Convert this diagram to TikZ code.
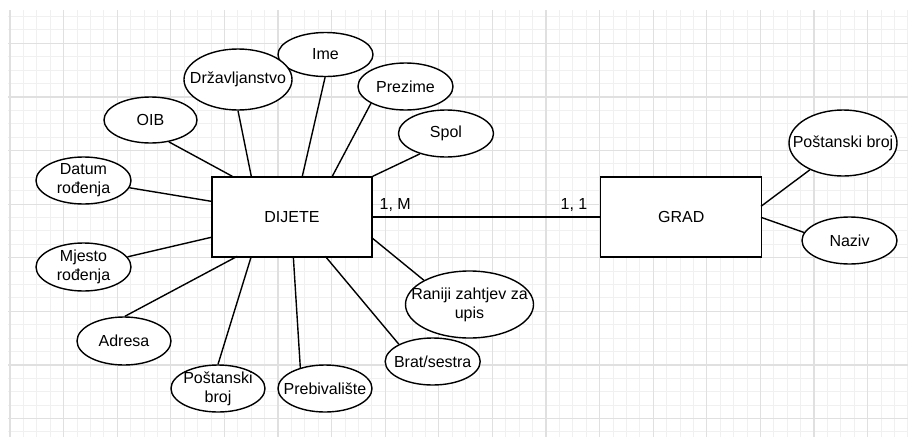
\documentclass[tikz,border=0pt]{standalone}
\usepackage{fontspec}
\setmainfont{Liberation Sans}
\usetikzlibrary{shapes.geometric,calc}
\newcommand{\fsz}{\fontsize{16}{19}\selectfont}
\definecolor{gridmaj}{HTML}{E0E0E0}
\definecolor{gridmin}{HTML}{F0F0F0}
\begin{document}
\begin{tikzpicture}[x=1pt,y=-1pt,
  attr/.style={draw, ellipse, line width=1.4pt, fill=white, inner sep=0pt, minimum width=95pt, minimum height=47pt},
  ent/.style={draw, rectangle, line width=1.4pt, fill=white, inner sep=0pt, minimum width=160pt, minimum height=80pt, font=\fsz},
  lbl/.style={font=\fsz, align=center, inner sep=0pt, text=black},
  conn/.style={line width=1.4pt},
  ]
\useasboundingbox (0,0) rectangle (908,437);
\fill[white] (0,0) rectangle (908,437);
\begin{scope}
\clip (8,10) rectangle (908,437);
\foreach \i in {0,...,67} \draw[gridmin, line width=1pt] ({10+13.4*\i},10) -- ({10+13.4*\i},437);
\foreach \i in {-2,...,29} \draw[gridmin, line width=1pt] (8,{43.3+13.4*\i}) -- (908,{43.3+13.4*\i});
\foreach \i in {0,...,16} \draw[gridmaj, line width=1.2pt] ({10+53.6*\i},10) -- ({10+53.6*\i},437);
\foreach \i in {0,...,7} \draw[gridmaj, line width=1.2pt] (8,{43.3+53.6*\i}) -- (908,{43.3+53.6*\i});
\end{scope}

% entities
\node[ent] (dijete) at (292,217) {DIJETE};
\node[ent, minimum width=161pt] (grad) at (681.2,217) {GRAD};

% attributes of DIJETE
\node[attr, minimum height=44pt, label={[lbl]center:Ime}] (ime) at (325.5,54.5) {};
\node[attr, minimum width=108pt, minimum height=61pt, label={[lbl]center:Državljanstvo}] (drz) at (238,79.5) {};
\node[attr, minimum width=93pt, minimum height=46pt, label={[lbl]center:OIB}] (oib) at (150.5,120) {};
\node[attr, label={[lbl]center:Prezime}] (prez) at (405.5,86.5) {};
\node[attr, label={[lbl]center:Spol}] (spol) at (446,133.5) {};
\node[attr, label={[lbl]center:Datum\\rođenja}] (datum) at (83.5,180.5) {};
\node[attr, minimum height=48pt, label={[lbl]center:Mjesto\\rođenja}] (mjesto) at (83.5,267) {};
\node[attr, minimum width=94pt, minimum height=48pt, label={[lbl]center:Adresa}] (adr) at (124,341) {};
\node[attr, minimum width=94pt, label={[lbl]center:Poštanski\\broj}] (postl) at (218,388.5) {};
\node[attr, minimum width=94pt, label={[lbl]center:Prebivalište}] (preb) at (325,388.5) {};
\node[attr, label={[lbl]center:Brat/sestra}] (brat) at (432.7,361.5) {};
\node[attr, minimum width=128pt, minimum height=67pt, label={[lbl]center:Raniji zahtjev za\\upis}] (ranij) at (469.5,304.5) {};

% attributes of GRAD
\node[attr, minimum width=108pt, minimum height=66pt, label={[lbl]center:Poštanski broj}] (postr) at (843,143) {};
\node[attr, label={[lbl]center:Naziv}] (naziv) at (849.5,240.5) {};

% connectors
\draw[conn] (ime.-91) -- ($(dijete.north west)+(91,0)$);
\draw[conn] (drz.-90) -- ($(dijete.north west)+(40,0)$);
\draw[conn] (oib.-50) -- ($(dijete.north west)+(21,0)$);
\draw[conn] (prez.206) -- ($(dijete.north west)+(121,0)$);
\draw[conn] (spol.218) -- (dijete.north east);
\draw[conn] (datum.-9) -- ($(dijete.north west)+(0,25)$);
\draw[conn] (mjesto.13) -- ($(dijete.north west)+(0,61)$);
\draw[conn] (adr.88) -- ($(dijete.north west)+(26,80)$);
\draw[conn] (postl.90) -- ($(dijete.north west)+(40,80)$);
\draw[conn] (preb.140) -- ($(dijete.north west)+(82,80)$);
\draw[conn] (brat.153) -- ($(dijete.north west)+(114,80)$);
\draw[conn] (ranij.152) -- ($(dijete.north west)+(160,61)$);
\draw[conn] (postr.219) -- ($(grad.north west)+(161,30)$);
\draw[conn] (naziv.170) -- ($(grad.north west)+(161,41)$);

% relationship
\draw[conn] (dijete) -- (grad);
\node[lbl, anchor=base west] (cardm) at (379.5,209) {1, M};
\node[lbl, anchor=base west] (card1) at (560.5,209) {1, 1};
\end{tikzpicture}
\end{document}
